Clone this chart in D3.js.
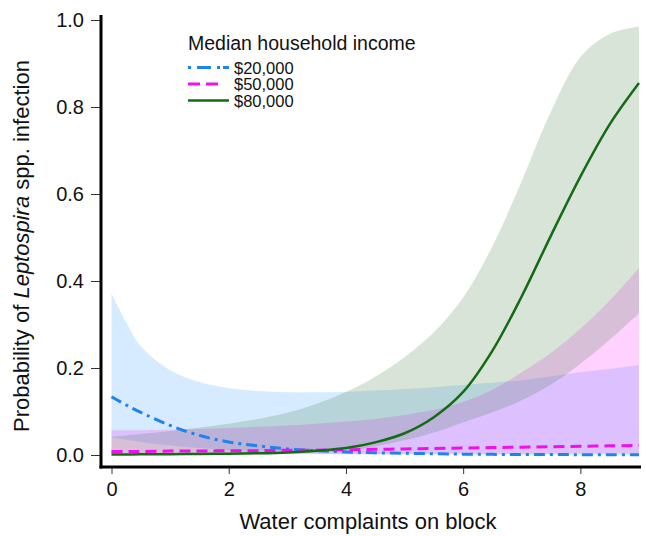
<!DOCTYPE html>
<html>
<head>
<meta charset="utf-8">
<script src="https://cdn.jsdelivr.net/npm/d3@7"></script>
<style>
  body { margin: 0; background: #fff; }
  svg { font-family: Arial, "Liberation Sans", sans-serif; }
</style>
</head>
<body>
<svg id="chart" width="646" height="536"></svg>
<script>
// water complaints on block
const complaints = [0, 0.25, 0.5, 1, 1.5, 2, 2.5, 3, 3.5, 4, 4.5, 5, 5.5, 6, 6.5, 7, 7.5, 8, 8.5, 9]

// $20,000
const fit20 = [0.134, 0.115, 0.098, 0.068, 0.045, 0.030, 0.021, 0.014, 0.010, 0.007, 0.005, 0.004, 0.003, 0.002, 0.0015, 0.001, 0.001, 0.0008, 0.0006, 0.0005]
const lo20 = [0.040, 0.035, 0.030, 0.022, 0.016, 0.011, 0.008, 0.005, 0.003, 0.002, 0.0015, 0.001, 0.001, 0.0005, 0.0005, 0.0005, 0.0005, 0.0005, 0.0005, 0.0005]
const hi20 = [0.372, 0.305, 0.250, 0.195, 0.168, 0.154, 0.147, 0.144, 0.144, 0.145, 0.148, 0.152, 0.156, 0.161, 0.166, 0.172, 0.181, 0.190, 0.198, 0.207]

// $50,000
const fit50 = [0.008, 0.008, 0.008, 0.009, 0.009, 0.010, 0.010, 0.011, 0.011, 0.012, 0.013, 0.014, 0.015, 0.016, 0.017, 0.018, 0.019, 0.020, 0.021, 0.022]
const lo50 = [0.002, 0.002, 0.002, 0.002, 0.002, 0.002, 0.002, 0.002, 0.002, 0.002, 0.002, 0.003, 0.003, 0.003, 0.003, 0.003, 0.003, 0.004, 0.004, 0.004]
const hi50 = [0.057, 0.057, 0.057, 0.058, 0.060, 0.062, 0.065, 0.068, 0.072, 0.077, 0.083, 0.092, 0.104, 0.122, 0.150, 0.190, 0.235, 0.290, 0.355, 0.430]

// $80,000
const fit80 = [0.001, 0.001, 0.0015, 0.002, 0.0025, 0.003, 0.004, 0.006, 0.010, 0.016, 0.029, 0.050, 0.087, 0.145, 0.240, 0.365, 0.505, 0.640, 0.760, 0.855]
const lo80 = [0, 0, 0, 0.0005, 0.001, 0.001, 0.002, 0.003, 0.005, 0.009, 0.020, 0.034, 0.052, 0.075, 0.098, 0.126, 0.162, 0.210, 0.265, 0.326]
const hi80 = [0.042, 0.045, 0.048, 0.055, 0.063, 0.072, 0.083, 0.097, 0.118, 0.145, 0.180, 0.225, 0.282, 0.362, 0.480, 0.630, 0.790, 0.915, 0.968, 0.985]

const incomeLabels = ['$20,000', '$50,000', '$80,000']
const xTicks = [0, 2, 4, 6, 8]
const yTicks = [0, 0.2, 0.4, 0.6, 0.8, 1.0]

const series = [
  { label: incomeLabels[0], fit: fit20, lo: lo20, hi: hi20, color: '#1f83ea', band: 'rgb(30,144,255)', bandOpacity: 0.18, dash: '11,5,3,5', width: 3 },
  { label: incomeLabels[1], fit: fit50, lo: lo50, hi: hi50, color: '#ee11ee', band: 'rgb(255,0,255)', bandOpacity: 0.18, dash: '11,6', width: 3 },
  { label: incomeLabels[2], fit: fit80, lo: lo80, hi: hi80, color: '#156b15', band: 'rgb(60,120,60)', bandOpacity: 0.2, dash: null, width: 2.5 }
]

const svg = d3.select('#chart')

const x = d3.scaleLinear().domain([0, 9]).range([111.5, 639])
const y = d3.scaleLinear().domain([0, 1]).range([455, 20])

const toPoints = (vals) => complaints.map((c, i) => [c, vals[i]])

// confidence bands
series.forEach((s) => {
  const band = complaints.map((c, i) => ({ c, lo: s.lo[i], hi: s.hi[i] }))
  svg.append('path')
    .datum(band)
    .attr('fill', s.band)
    .attr('fill-opacity', s.bandOpacity)
    .attr('d', d3.area()
      .curve(d3.curveCatmullRom)
      .x((d) => x(d.c))
      .y0((d) => y(d.lo))
      .y1((d) => y(d.hi)))
})

// fitted lines
const line = d3.line()
  .curve(d3.curveCatmullRom)
  .x((d) => x(d[0]))
  .y((d) => y(d[1]))

series.forEach((s) => {
  svg.append('path')
    .datum(toPoints(s.fit))
    .attr('fill', 'none')
    .attr('stroke', s.color)
    .attr('stroke-width', s.width)
    .attr('stroke-dasharray', s.dash)
    .attr('d', line)
})

// axes
const yAxis = svg.append('g')
  .attr('transform', 'translate(100,0)')
  .call(d3.axisLeft(y).tickValues(yTicks).tickFormat(d3.format('.1f')).tickSize(9).tickPadding(7))
yAxis.select('.domain').remove()
yAxis.selectAll('.tick line').attr('stroke', '#333').attr('stroke-width', 1)
yAxis.selectAll('.tick text').attr('font-size', 20).attr('fill', '#111')
  .attr('font-family', 'Arial, "Liberation Sans", sans-serif')

const xAxis = svg.append('g')
  .attr('transform', 'translate(0,468)')
  .call(d3.axisBottom(x).tickValues(xTicks).tickFormat(d3.format('d')).tickSize(6).tickPadding(8))
xAxis.select('.domain').remove()
xAxis.selectAll('.tick line').attr('stroke', '#333').attr('stroke-width', 1)
xAxis.selectAll('.tick text').attr('font-size', 20).attr('fill', '#111')
  .attr('font-family', 'Arial, "Liberation Sans", sans-serif')

svg.append('line')
  .attr('x1', 101).attr('x2', 101).attr('y1', 15).attr('y2', 468.5)
  .attr('stroke', '#000').attr('stroke-width', 3)
svg.append('line')
  .attr('x1', 99.5).attr('x2', 641).attr('y1', 467).attr('y2', 467)
  .attr('stroke', '#000').attr('stroke-width', 3)

// axis titles
svg.append('text')
  .attr('x', 368).attr('y', 529)
  .attr('text-anchor', 'middle')
  .attr('font-size', 22)
  .attr('fill', '#111')
  .text('Water complaints on block')

const yTitle = svg.append('text')
  .attr('transform', 'translate(29,246) rotate(-90)')
  .attr('text-anchor', 'middle')
  .attr('font-size', 22)
  .attr('fill', '#111')
yTitle.append('tspan').text('Probability of ')
yTitle.append('tspan').attr('font-style', 'italic').text('Leptospira')
yTitle.append('tspan').text(' spp. infection')

// legend
const legend = svg.append('g').attr('transform', 'translate(188,0)')
legend.append('text')
  .attr('x', 0).attr('y', 50)
  .attr('font-size', 19.5)
  .attr('fill', '#111')
  .text('Median household income')

series.forEach((s, i) => {
  const ly = 67.5 + i * 16.5
  legend.append('line')
    .attr('x1', 0).attr('x2', 41).attr('y1', ly).attr('y2', ly)
    .attr('stroke', s.color)
    .attr('stroke-width', s.width)
    .attr('stroke-dasharray', i === 0 ? '3,6,14,6,3' : (i === 1 ? '12,6,12' : null))
  legend.append('text')
    .attr('x', 46).attr('y', ly + 6)
    .attr('font-size', 16.5)
    .attr('fill', '#111')
    .text(s.label)
})
</script>
</body>
</html>
